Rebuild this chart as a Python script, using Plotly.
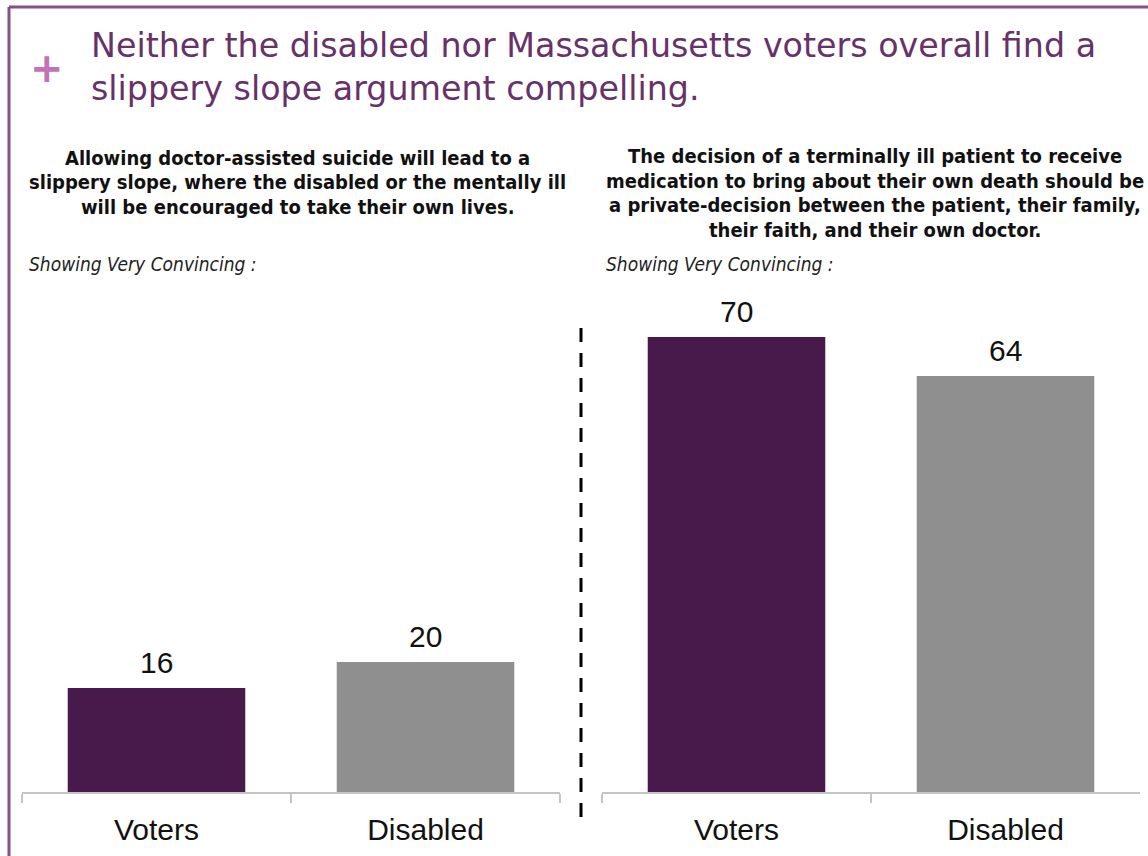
import plotly.graph_objects as go

W, H = 1148, 856

# Data
categories = ["Voters", "Disabled"]
slippery_slope = [16, 20]
private_decision = [70, 64]
bar_colors = ["#481a4c", "#8f8f8f"]

title_lines = [
    "Neither the disabled nor Massachusetts voters overall find a",
    "slippery slope argument compelling.",
]
left_statement = [
    "Allowing doctor-assisted suicide will lead to a",
    "slippery slope, where the disabled or the mentally ill",
    "will be encouraged to take their own lives.",
]
right_statement = [
    "The decision of a terminally ill patient to receive",
    "medication to bring about their own death should be",
    "a private-decision between the patient, their family,",
    "their faith, and their own doctor.",
]
note = "Showing Very Convincing :"


def px(x):
    return x / W


def py(y):
    return 1 - y / H


fig = go.Figure()
fig.add_trace(go.Bar(x=categories, y=slippery_slope, marker_color=bar_colors,
                     marker_line_width=0, xaxis="x", yaxis="y", showlegend=False))
fig.add_trace(go.Bar(x=categories, y=private_decision, marker_color=bar_colors,
                     marker_line_width=0, xaxis="x2", yaxis="y2", showlegend=False))

axis_font = dict(family="Liberation Sans, Arial, sans-serif", size=30, color="#111111")
xcommon = dict(type="category", showline=True, linecolor="#c4c4c4", linewidth=2,
               ticks="outside", tickson="boundaries", ticklen=9, tickwidth=2,
               tickcolor="#c4c4c4", tickfont=axis_font, ticklabelstandoff=10,
               showgrid=False, zeroline=False, fixedrange=True)
ycommon = dict(range=[0, 100], visible=False, showgrid=False, zeroline=False,
               domain=[64 / H, 714 / H], fixedrange=True)

fig.update_layout(
    width=W, height=H,
    margin=dict(l=0, r=0, t=0, b=0),
    paper_bgcolor="white", plot_bgcolor="white",
    bargap=0.34,
    xaxis=dict(domain=[px(22), px(560)], anchor="y", **xcommon),
    yaxis=dict(anchor="x", **ycommon),
    xaxis2=dict(domain=[px(602), px(1140)], anchor="y2", **xcommon),
    yaxis2=dict(anchor="x2", **ycommon),
)

annotations = []

# Value labels above each bar
for xa, ya, vals in (("x", "y", slippery_slope), ("x2", "y2", private_decision)):
    for c, v in zip(categories, vals):
        annotations.append(dict(x=c, y=v, xref=xa, yref=ya, text=str(v),
                                showarrow=False, yanchor="bottom", yshift=7,
                                font=axis_font))

# Headline
title_font = dict(family="DejaVu Sans, Verdana, sans-serif", size=33.3, color="#673169")
for line, yc in zip(title_lines, (45, 88)):
    annotations.append(dict(x=px(89), y=py(yc), xref="paper", yref="paper",
                            text=line, showarrow=False, xanchor="left",
                            yanchor="middle", font=title_font))
annotations.append(dict(x=px(47), y=py(68), xref="paper", yref="paper", text="<b>+</b>",
                        showarrow=False, xanchor="center", yanchor="middle",
                        font=dict(family="DejaVu Sans, sans-serif", size=40,
                                  color="#c272b9")))

# Statements above each panel
stmt_font = dict(family="Liberation Sans Narrow, DejaVu Sans Condensed, Arial Narrow, sans-serif",
                 size=20, color="#111111")
for lines, xc, y0 in ((left_statement, 297, 158), (right_statement, 875, 156)):
    for k, line in enumerate(lines):
        annotations.append(dict(x=px(xc), y=py(y0 + 24.5 * k), xref="paper", yref="paper",
                                text="<b>" + line + "</b>", showarrow=False,
                                xanchor="center", yanchor="middle", font=stmt_font))

note_font = dict(family="Liberation Sans Narrow, DejaVu Sans Condensed, Arial Narrow, sans-serif",
                 size=19, color="#222222")
for x0 in (27, 604):
    annotations.append(dict(x=px(x0), y=py(264), xref="paper", yref="paper",
                            text="<i>" + note + "</i>", showarrow=False,
                            xanchor="left", yanchor="middle", font=note_font))

fig.update_layout(annotations=annotations)

# Frame and divider
border = "#84508a"
fig.add_shape(type="line", xref="paper", yref="paper", x0=px(9), x1=1, y0=py(7), y1=py(7),
              line=dict(color=border, width=3))
fig.add_shape(type="line", xref="paper", yref="paper", x0=px(9), x1=px(9), y0=py(7), y1=0,
              line=dict(color=border, width=3))
fig.add_shape(type="line", xref="paper", yref="paper", x0=px(581), x1=px(581),
              y0=py(328), y1=py(822), line=dict(color="black", width=3, dash="14px,11px"))

fig.write_html("out.html")
